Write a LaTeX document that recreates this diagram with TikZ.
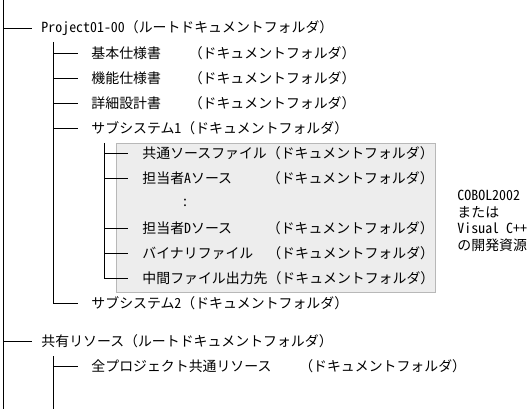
\documentclass[tikz,border=0pt]{standalone}
\usepackage{fontspec}
\setmainfont{Noto Sans CJK JP}
\newfontfamily\hw{Noto Sans CJK JP}[RawFeature=+hwid]

\begin{document}
\begin{tikzpicture}[x=1pt, y=-1pt, line width=0.9pt,
    font=\fontsize{13.9}{16.7}\selectfont,
    lv1/.style={anchor=west, inner xsep=9pt, inner ysep=0pt},
    lv2/.style={anchor=west, inner xsep=13pt, inner ysep=0pt},
    lv3/.style={anchor=west, inner xsep=14pt, inner ysep=0pt},
    devbox/.style={fill=black!7, draw=black!28, line width=0.8pt}]
    \useasboundingbox (0,0) rectangle (531,409);
    \draw[devbox] (116,143) rectangle (435,292);

    \coordinate (Rtop) at (3,0);
    \coordinate (Rbot) at (3,409);
    \coordinate (Atop) at (53,42);
    \coordinate (Btop) at (53,356);
    \coordinate (Bbot) at (53,409);
    \coordinate (Ctop) at (104,143);

    \node[lv1] (R1) at (32,28) {{\hw Project01-00}（ルートドキュメントフォルダ）};
    \node[lv2] (A1) at (78,53) {基本仕様書　　（ドキュメントフォルダ）};
    \node[lv2] (A2) at (78,78) {機能仕様書　　（ドキュメントフォルダ）};
    \node[lv2] (A3) at (78,103) {詳細設計書　　（ドキュメントフォルダ）};
    \node[lv2] (A4) at (78,128) {サブシステム{\hw 1}（ドキュメントフォルダ）};
    \node[lv3] (C1) at (128,153) {共通ソースファイル（ドキュメントフォルダ）};
    \node[lv3] (C2) at (128,178) {担当者{\hw A}ソース\hspace{2.5em}（ドキュメントフォルダ）};
    \node[inner sep=0pt] (C3) at (185,203) {\hw :};
    \node[lv3] (C4) at (128,228) {担当者{\hw D}ソース\hspace{2.5em}（ドキュメントフォルダ）};
    \node[lv3] (C5) at (128,253) {バイナリファイル　（ドキュメントフォルダ）};
    \node[lv3] (C6) at (128,278) {中間ファイル出力先（ドキュメントフォルダ）};
    \node[lv2] (A5) at (78,303) {サブシステム{\hw 2}（ドキュメントフォルダ）};
    \node[lv1] (R2) at (32,341) {共有リソース（ルートドキュメントフォルダ）};
    \node[lv2] (B1) at (78,366) {全プロジェクト共通リソース　　（ドキュメントフォルダ）};
    \node[anchor=west, align=left, inner sep=0pt] (N) at (457,221)
        {{\hw COBOL2002}\\または\\{\hw Visual C++}\\の開発資源};

    \draw (Rtop) -- (Rbot);
    \draw (Rtop |- R1.west) -- (R1.west);
    \draw (Rtop |- R2.west) -- (R2.west);
    \draw (Atop) |- (A5.west);
    \draw (Atop |- A1.west) -- (A1.west);
    \draw (Atop |- A2.west) -- (A2.west);
    \draw (Atop |- A3.west) -- (A3.west);
    \draw (Atop |- A4.west) -- (A4.west);
    \draw (Btop) -- (Bbot);
    \draw (Btop |- B1.west) -- (B1.west);
    \draw (Ctop) |- (C6.west);
    \draw (Ctop |- C1.west) -- (C1.west);
    \draw (Ctop |- C2.west) -- (C2.west);
    \draw (Ctop |- C4.west) -- (C4.west);
    \draw (Ctop |- C5.west) -- (C5.west);
\end{tikzpicture}
\end{document}
